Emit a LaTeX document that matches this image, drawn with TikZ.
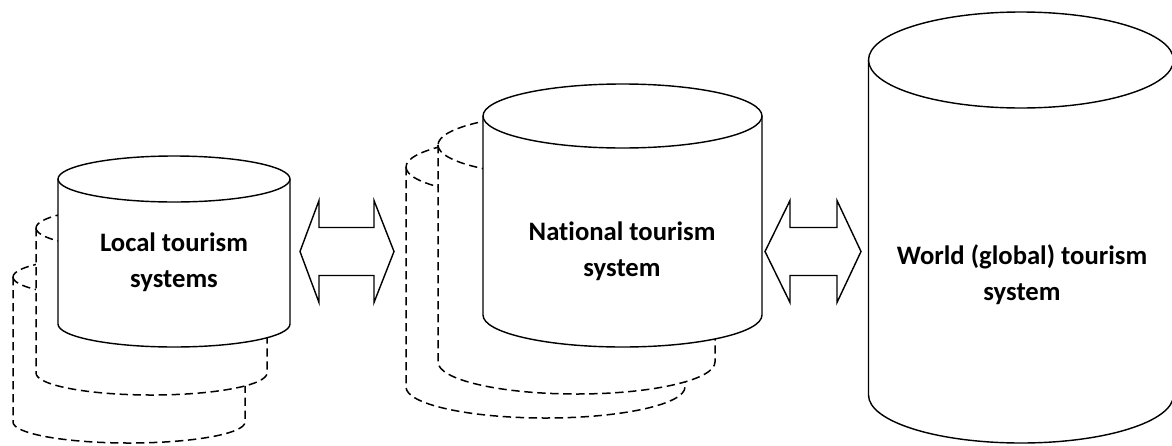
\documentclass[tikz,border=0pt]{standalone}
\usepackage{fontspec}
\setmainfont{Carlito}[Ligatures={NoCommon}]
\newcommand{\drawcyl}[6]{%
  \path[#1] ({#2-#5},{#3}) -- ({#2-#5},{#4})
    arc[start angle=180,end angle=360,x radius=#5,y radius=#6]
    -- ({#2+#5},{#3})
    arc[start angle=0,end angle=180,x radius=#5,y radius=#6] -- cycle;
  \path[#1] ({#2-#5},{#3}) arc[start angle=180,end angle=360,x radius=#5,y radius=#6];
}
\newcommand{\dblarrow}[6]{%
  % name, x tip left, x inner left, x inner right, x tip right, y center
  \coordinate (#1-l) at (#2,#6);
  \coordinate (#1-r) at (#5,#6);
  \path[arrowshape] (#1-l) -- (#3,{#6+51}) -- (#3,{#6+24}) -- (#4,{#6+24}) -- (#4,{#6+51})
    -- (#1-r) -- (#4,{#6-51}) -- (#4,{#6-24}) -- (#3,{#6-24}) -- (#3,{#6-51}) -- cycle;
}
\begin{document}
\begin{tikzpicture}[x=0.6pt,y=0.6pt,
  solidcyl/.style={draw=black,fill=white,line width=0.85pt},
  dashcyl/.style={draw=black,fill=white,line width=0.9pt,dash pattern=on 5pt off 2.8pt},
  arrowshape/.style={draw=black,fill=white,line width=0.85pt,line join=miter},
  label/.style={align=center,font=\bfseries\fontsize{16}{21.5}\selectfont,inner sep=0pt}]
\useasboundingbox (0,0) rectangle (1172,445);
% Local group
\drawcyl{dashcyl}{129}{168}{23}{116}{21}
\drawcyl{dashcyl}{151.5}{217}{72}{115.5}{22}
\drawcyl{solidcyl}{174}{266}{121}{116}{23}
\node[label] (local) at (174,182.5) {Local tourism\\systems};
% National group
\drawcyl{dashcyl}{545.5}{278}{58}{139.5}{31}
\drawcyl{dashcyl}{576.5}{300}{83}{138.5}{32}
\drawcyl{solidcyl}{622.5}{329}{130}{139.5}{32}
\node[label] (national) at (622,193.5) {National tourism\\system};
% World
\drawcyl{solidcyl}{1021}{385}{50}{152.5}{48}
\node[label] (world) at (1022,170) {World (global) tourism\\system};
% Arrows
\dblarrow{a1}{300}{319}{374}{394}{193.5}
\dblarrow{a2}{765}{790}{837}{861}{193.5}
\end{tikzpicture}
\end{document}
